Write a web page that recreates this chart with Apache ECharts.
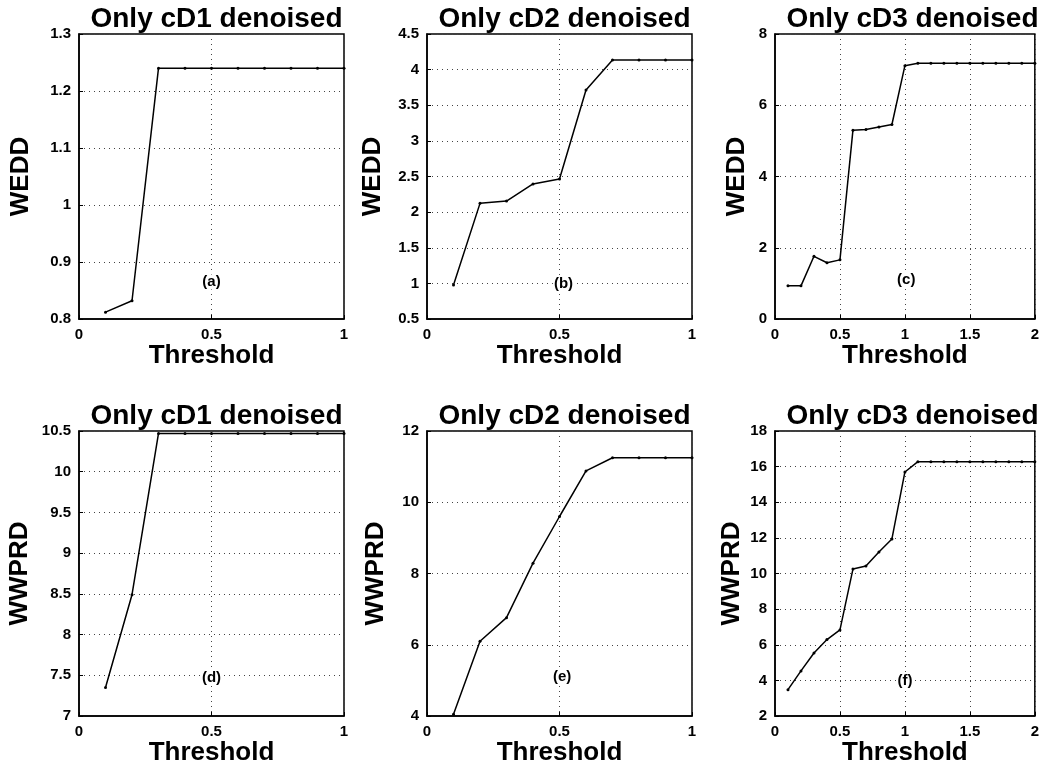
<!DOCTYPE html>
<html>
<head>
<meta charset="utf-8">
<script src="https://cdn.jsdelivr.net/npm/echarts@6/dist/echarts.min.js"></script>
<style>
html,body{margin:0;padding:0;background:#fff;}
#chart{width:1042px;height:769px;}
</style>
</head>
<body>
<div id="chart"></div>
<script>
// ---- data ----
const thresholds1 = [0.1,0.2,0.3,0.4,0.5,0.6,0.7,0.8,0.9,1.0];
const thresholds2 = [0.1,0.2,0.3,0.4,0.5,0.6,0.7,0.8,0.9,1.0,1.1,1.2,1.3,1.4,1.5,1.6,1.7,1.8,1.9,2.0];

const weddCD1 = [0.812,0.832,1.240,1.240,1.240,1.240,1.240,1.240,1.240,1.240];
const weddCD2 = [0.977,2.123,2.156,2.395,2.465,3.714,4.135,4.135,4.135,4.135];
const weddCD3 = [0.93,0.93,1.76,1.58,1.66,5.30,5.32,5.39,5.46,7.11,7.18,7.18,7.18,7.18,7.18,7.18,7.18,7.18,7.18,7.18];

const wwprdCD1 = [7.35,8.49,10.47,10.47,10.47,10.47,10.47,10.47,10.47,10.47];
const wwprdCD2 = [4.05,6.10,6.76,8.29,9.60,10.88,11.25,11.25,11.25,11.25];
const wwprdCD3 = [3.48,4.53,5.54,6.29,6.83,10.25,10.42,11.21,11.94,15.70,16.28,16.28,16.28,16.28,16.28,16.28,16.28,16.28,16.28,16.28];

const panelTitles = ['Only cD1 denoised','Only cD2 denoised','Only cD3 denoised','Only cD1 denoised','Only cD2 denoised','Only cD3 denoised'];
const yLabels = ['WEDD','WEDD','WEDD','WWPRD','WWPRD','WWPRD'];
const xLabel = 'Threshold';
const panelTags = ['(a)','(b)','(c)','(d)','(e)','(f)'];
const tagX = [0.5,0.515,1.01,0.5,0.51,1.0];
const tagY = [0.865,1.0,1.11,7.47,5.11,4.0];
const yMins = [0.8,0.5,0,7,4,2];
const yMaxs = [1.3,4.5,8,10.5,12,18];
const yIntervals = [0.1,0.5,2,0.5,2,2];
const xMaxs = [1,1,2,1,1,2];

// ---- layout ----
const FONT = 'Liberation Sans, Arial, Helvetica, sans-serif';
const lefts = [79,427,775];
const tops = [34,431];
const W = 265, H = 285;
const yNameGaps = [45,41,25,46,38,30];
const xs = [thresholds1,thresholds1,thresholds2,thresholds1,thresholds1,thresholds2];
const ys = [weddCD1,weddCD2,weddCD3,wwprdCD1,wwprdCD2,wwprdCD3];

const grids=[], xAxes=[], yAxes=[], series=[], titles=[];
for (let i=0;i<6;i++){
  const col=i%3, row=Math.floor(i/3);
  grids.push({left:lefts[col], top:tops[row], width:(col===2?264:W), height:H,
    show:true, borderColor:'#000', borderWidth:1.5, backgroundColor:'#fff', containLabel:false});
  titles.push({text:panelTitles[i], left:lefts[col]+W/2, top:tops[row]-34, textAlign:'center',
    textStyle:{fontFamily:FONT, fontSize:28, fontWeight:'bold', color:'#000'}});
  xAxes.push({type:'value', gridIndex:i, min:0, max:xMaxs[i], interval:0.5,
    name:xLabel, nameLocation:'middle', nameGap:23,
    nameTextStyle:{fontFamily:FONT, fontSize:26, fontWeight:'bold', color:'#000'},
    axisLine:{show:true, onZero:false, lineStyle:{color:'#000', width:1.5}},
    axisTick:{show:true, inside:true, length:4, lineStyle:{color:'#000'}},
    axisLabel:{fontFamily:FONT, fontSize:15, fontWeight:'bold', color:'#000', margin:8},
    splitLine:{show:true, lineStyle:{color:'#444', type:[1,4], width:1}}});
  yAxes.push({type:'value', gridIndex:i, min:yMins[i], max:yMaxs[i], interval:yIntervals[i],
    name:yLabels[i], nameLocation:'middle', nameGap:yNameGaps[i],
    nameTextStyle:{fontFamily:FONT, fontSize:26, fontWeight:'bold', color:'#000'},
    axisLine:{show:true, onZero:false, lineStyle:{color:'#000', width:1.5}},
    axisTick:{show:true, inside:true, length:4, lineStyle:{color:'#000'}},
    axisLabel:{fontFamily:FONT, fontSize:15, fontWeight:'bold', color:'#000', margin:8},
    splitLine:{show:true, lineStyle:{color:'#444', type:[1,4], width:1}}});
  series.push({type:'line', xAxisIndex:i, yAxisIndex:i,
    data: xs[i].map((x,k)=>[x, ys[i][k]]),
    symbol:'circle', symbolSize:3, showSymbol:true,
    itemStyle:{color:'#000'}, lineStyle:{color:'#000', width:1.5}});
  series.push({type:'scatter', xAxisIndex:i, yAxisIndex:i, symbolSize:1,
    data:[[tagX[i], tagY[i]]], silent:true, z:5,
    itemStyle:{color:'#fff', opacity:1},
    label:{show:true, position:'inside', formatter:panelTags[i], opacity:1,
      fontFamily:FONT, fontSize:15, fontWeight:'bold', color:'#000',
      textBorderWidth:0, textBorderColor:'transparent',
      backgroundColor:'#fff', padding:[0,1]}});
}

const chart = echarts.init(document.getElementById('chart'), null, {renderer:'canvas'});
chart.setOption({
  animation:false,
  backgroundColor:'#fff',
  title:titles,
  grid:grids,
  xAxis:xAxes,
  yAxis:yAxes,
  series:series
});
</script>
</body>
</html>
